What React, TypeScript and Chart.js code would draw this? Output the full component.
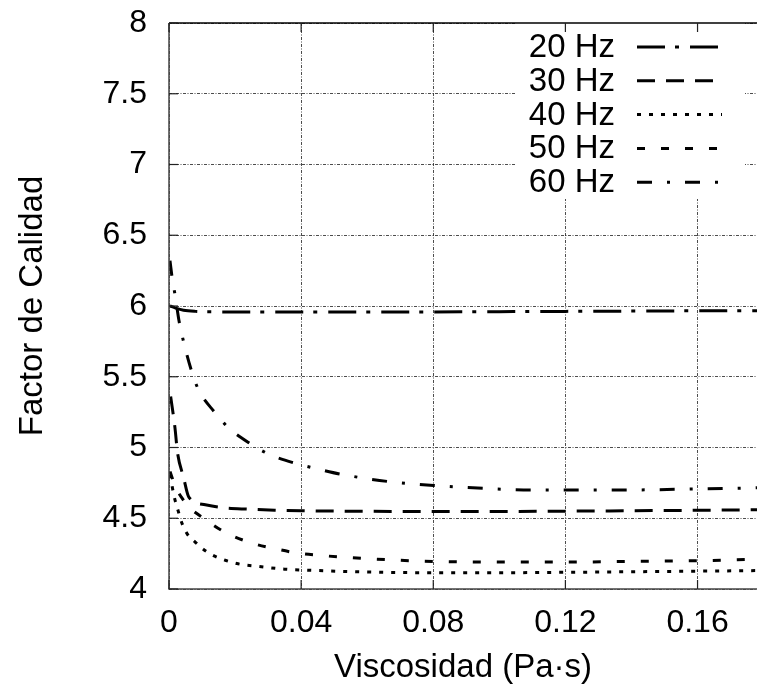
import React, { useEffect, useRef } from "react";
import { Chart, registerables } from "chart.js";

Chart.register(...registerables);

const FONT = '"Liberation Sans", Arial, Helvetica, sans-serif';

const seriesLabels = ["20 Hz", "30 Hz", "40 Hz", "50 Hz", "60 Hz"];

const x20 = [0.0003, 0.002, 0.0044, 0.008, 0.014, 0.02, 0.035, 0.05, 0.075, 0.1, 0.12, 0.14, 0.16, 0.178];
const y20 = [6.0, 5.985, 5.97, 5.962, 5.959, 5.958, 5.957, 5.957, 5.958, 5.96, 5.962, 5.964, 5.966, 5.967];

const x30 = [0.0005, 0.0018, 0.0026, 0.0044, 0.006, 0.011, 0.016, 0.024, 0.032, 0.04, 0.06, 0.08, 0.1, 0.12, 0.14, 0.16, 0.178];
const y30 = [5.36, 5.14, 4.96, 4.79, 4.65, 4.595, 4.575, 4.564, 4.557, 4.553, 4.549, 4.547, 4.548, 4.55, 4.553, 4.556, 4.56];

const x40 = [0.0003, 0.0015, 0.0028, 0.004, 0.0055, 0.008, 0.011, 0.014, 0.0205, 0.027, 0.035, 0.042, 0.06, 0.08, 0.1, 0.12, 0.14, 0.16, 0.178];
const y40 = [4.81, 4.66, 4.55, 4.46, 4.39, 4.33, 4.27, 4.23, 4.18, 4.16, 4.14, 4.133, 4.12, 4.115, 4.115, 4.118, 4.122, 4.126, 4.13];

const x50 = [0.0003, 0.002, 0.004, 0.006, 0.0105, 0.017, 0.025, 0.033, 0.04, 0.046, 0.052, 0.06, 0.068, 0.075, 0.085, 0.1, 0.12, 0.14, 0.16, 0.178];
const y50 = [4.83, 4.72, 4.64, 4.58, 4.5, 4.4, 4.325, 4.28, 4.25, 4.237, 4.226, 4.214, 4.205, 4.198, 4.193, 4.19, 4.19, 4.195, 4.2, 4.21];

const x60 = [0.0003, 0.001, 0.0019, 0.003, 0.0046, 0.0067, 0.0089, 0.0138, 0.018, 0.0244, 0.0305, 0.0395, 0.0447, 0.0523, 0.0662, 0.081, 0.0962, 0.11, 0.125, 0.14, 0.155, 0.168, 0.178];
const y60 = [6.32, 6.19, 6.07, 5.9, 5.73, 5.55, 5.41, 5.25, 5.14, 5.03, 4.95, 4.88, 4.85, 4.81, 4.76, 4.73, 4.71, 4.7, 4.7, 4.7, 4.705, 4.71, 4.715];

const xTickValues = [0, 0.04, 0.08, 0.12, 0.16];
const xTickLabels = ["0", "0.04", "0.08", "0.12", "0.16"];
const yTickValues = [4, 4.5, 5, 5.5, 6, 6.5, 7, 7.5, 8];
const yTickLabels = ["4", "4.5", "5", "5.5", "6", "6.5", "7", "7.5", "8"];

const xTitle = "Viscosidad (Pa·s)";
const yTitle = "Factor de Calidad";

const seriesX = [x20, x30, x40, x50, x60];
const seriesY = [y20, y30, y40, y50, y60];
const dashes = [
  [28, 10, 4, 11],
  [18, 11],
  [4, 8],
  [8, 16],
  [15, 15, 3, 15],
];

const gnuplotPlugin = {
  id: "gnuplotDecor",
  beforeDatasetsDraw(chart: any) {
    const { ctx, chartArea } = chart;
    ctx.save();
    ctx.fillStyle = "#ffffff";
    ctx.fillRect(chartArea.right - 242, chartArea.top, 230, 176);
    ctx.restore();
  },
  afterDraw(chart: any) {
    const { ctx, chartArea, scales } = chart;
    const xs = scales.x;
    const ys = scales.y;
    ctx.save();
    ctx.setLineDash([]);
    ctx.lineWidth = 1.5;
    ctx.strokeStyle = "#000000";
    ctx.beginPath();
    ctx.moveTo(chartArea.left, chartArea.top);
    ctx.lineTo(chartArea.right, chartArea.top);
    ctx.stroke();
    ctx.strokeStyle = "#444444";
    ctx.beginPath();
    ctx.moveTo(chartArea.left, chartArea.top);
    ctx.lineTo(chartArea.left, chartArea.bottom);
    ctx.lineTo(chartArea.right, chartArea.bottom);
    ctx.stroke();
    ctx.lineWidth = 1.2;
    ctx.strokeStyle = "#222222";
    const tl = 9;
    xTickValues.forEach((v) => {
      const px = xs.getPixelForValue(v);
      ctx.beginPath();
      ctx.moveTo(px, chartArea.bottom);
      ctx.lineTo(px, chartArea.bottom - tl);
      ctx.moveTo(px, chartArea.top);
      ctx.lineTo(px, chartArea.top + tl);
      ctx.stroke();
    });
    yTickValues.forEach((v) => {
      const py = ys.getPixelForValue(v);
      ctx.beginPath();
      ctx.moveTo(chartArea.left, py);
      ctx.lineTo(chartArea.left + tl, py);
      ctx.stroke();
    });
    ctx.font = `33px ${FONT}`;
    ctx.fillStyle = "#000000";
    ctx.textAlign = "right";
    ctx.textBaseline = "middle";
    const textRight = chartArea.right - 142;
    const lineStart = chartArea.right - 120;
    const lineEnd = chartArea.right - 35;
    chart.data.datasets.forEach((ds: any, i: number) => {
      const cy = chartArea.top + 24 + i * 33.8;
      ctx.setLineDash([]);
      ctx.fillText(ds.label, textRight, cy + 1);
      ctx.lineWidth = 3;
      ctx.strokeStyle = "#000000";
      ctx.setLineDash(ds.borderDash || []);
      ctx.beginPath();
      ctx.moveTo(lineStart, cy);
      ctx.lineTo(lineEnd, cy);
      ctx.stroke();
    });
    ctx.restore();
  },
};

export default function App() {
  const canvasRef = useRef<HTMLCanvasElement | null>(null);

  useEffect(() => {
    document.body.style.margin = "0";
    const canvas = canvasRef.current;
    if (!canvas) return;
    const datasets = seriesLabels.map((label, i) => ({
      label,
      data: seriesX[i].map((x, j) => ({ x, y: seriesY[i][j] })),
      borderColor: "#000000",
      backgroundColor: "#000000",
      borderWidth: 3,
      borderDash: dashes[i],
      borderCapStyle: "butt" as const,
      pointRadius: 0,
      pointHoverRadius: 0,
      fill: false,
      cubicInterpolationMode: "monotone" as const,
    }));
    const chart = new Chart(canvas, {
      type: "line",
      data: { datasets },
      plugins: [gnuplotPlugin],
      options: {
        animation: false,
        responsive: false,
        devicePixelRatio: 1,
        events: [],
        layout: { padding: { left: 0, right: 0, top: 23, bottom: 0 } },
        plugins: {
          legend: { display: false },
          tooltip: { enabled: false },
          title: { display: false },
        },
        scales: {
          x: {
            type: "linear",
            min: 0,
            max: 0.178,
            afterBuildTicks: (s: any) => {
              s.ticks = xTickValues.map((v) => ({ value: v }));
            },
            afterFit: (s: any) => {
              s.height = 105;
              s.paddingLeft = 0;
              s.paddingRight = 0;
            },
            ticks: {
              autoSkip: false,
              maxRotation: 0,
              padding: 15,
              color: "#000000",
              font: { family: FONT, size: 32 },
              callback: (_v: any, i: number) => xTickLabels[i],
            },
            grid: {
              color: "rgba(0,0,0,0.7)",
              lineWidth: 1,
              drawTicks: false,
            },
            border: { display: false, dash: [3, 1.5, 1, 1.5] },
            title: {
              display: true,
              text: xTitle,
              color: "#000000",
              font: { family: FONT, size: 33 },
              padding: { top: 0, bottom: 6 },
            },
          },
          y: {
            type: "linear",
            min: 4,
            max: 8,
            afterBuildTicks: (s: any) => {
              s.ticks = yTickValues.map((v) => ({ value: v }));
            },
            afterFit: (s: any) => {
              s.width = 169;
              s.paddingTop = 0;
              s.paddingBottom = 0;
            },
            ticks: {
              autoSkip: false,
              padding: 22,
              color: "#000000",
              font: { family: FONT, size: 32 },
              callback: (_v: any, i: number) => yTickLabels[i],
            },
            grid: {
              color: "rgba(0,0,0,0.7)",
              lineWidth: 1,
              drawTicks: false,
            },
            border: { display: false, dash: [3, 1.5, 1, 1.5] },
            title: {
              display: true,
              text: yTitle,
              color: "#000000",
              font: { family: FONT, size: 33 },
              padding: { top: 13, bottom: 0 },
            },
          },
        },
      },
    });
    return () => chart.destroy();
  }, []);

  return (
    <div style={{ width: 757, height: 694 }}>
      <canvas ref={canvasRef} width={757} height={694} style={{ display: "block", width: 757, height: 694 }} />
    </div>
  );
}
